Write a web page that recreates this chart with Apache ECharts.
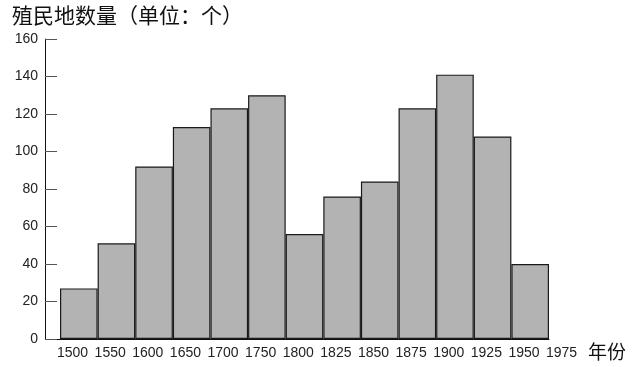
<!DOCTYPE html>
<html>
<head>
<meta charset="utf-8">
<script src="https://cdn.jsdelivr.net/npm/echarts@6/dist/echarts.min.js"></script>
<style>html,body{margin:0;padding:0;background:#fff}#c{width:634px;height:367px}</style>
</head>
<body>
<div id="c"></div>
<script>
const periods = ['1500-1550','1550-1600','1600-1650','1650-1700','1700-1750','1750-1800','1800-1825','1825-1850','1850-1875','1875-1900','1900-1925','1925-1950','1950-1975'];
const counts = [27, 51, 92, 113, 123, 130, 56, 76, 84, 123, 141, 108, 40];
const yearLabels = ['1500','1550','1600','1650','1700','1750','1800','1825','1850','1875','1900','1925','1950','1975'];
const yMin = 0, yMax = 160, yStep = 20;
const titleText = '殖民地数量（单位：个）';
const xName = '年份';

const chart = echarts.init(document.getElementById('c'), null, {renderer: 'canvas'});
const numFont = 'Liberation Sans, Arial, sans-serif';
const cjkFont = 'Noto Sans CJK SC, sans-serif';
const yAxisOffset = 15;
chart.setOption({
  animation: false,
  backgroundColor: '#fff',
  title: {
    text: titleText, left: 7, top: 0,
    textStyle: {fontFamily: cjkFont, fontSize: 21, fontWeight: 'normal', color: '#111'}
  },
  grid: {left: 60, right: 85, top: 39, bottom: 28, containLabel: false},
  xAxis: [
    {
      type: 'category', data: periods, boundaryGap: true,
      axisLine: {show: true, lineStyle: {color: '#111', width: 1}},
      axisTick: {show: false}, axisLabel: {show: false}, splitLine: {show: false}
    },
    {
      type: 'category', data: yearLabels, boundaryGap: false, position: 'bottom',
      axisLine: {show: false}, axisTick: {show: false}, splitLine: {show: false},
      axisLabel: {show: true, interval: 0, align: 'left', margin: 7, padding: [0,0,0,-3],
        fontFamily: numFont, fontSize: 14, color: '#222'}
    }
  ],
  yAxis: {
    type: 'value', min: yMin, max: yMax, interval: yStep, offset: yAxisOffset,
    axisLine: {show: true, lineStyle: {color: '#111', width: 1}},
    axisTick: {show: true, inside: true, length: 12, lineStyle: {color: '#555', width: 1}},
    axisLabel: {fontFamily: numFont, fontSize: 14, color: '#222', margin: 7},
    splitLine: {show: false}
  },
  series: [{
    type: 'bar', xAxisIndex: 0, data: counts, barCategoryGap: '0%',
    itemStyle: {color: '#b3b3b3', borderColor: '#1a1a1a', borderWidth: 1.2}
  }]
});
// join the offset y-axis to the x-axis line, and place the x-axis name
const base = chart.convertToPixel({xAxisIndex: 0, yAxisIndex: 0}, [0, 0]);
const rect = chart.getModel().getComponent('grid', 0).coordinateSystem.getRect();
chart.setOption({
  graphic: [
    {type: 'line', shape: {x1: rect.x - yAxisOffset, y1: base[1] + 0.5, x2: rect.x, y2: base[1] + 0.5},
     style: {stroke: '#111', lineWidth: 1}},
    {type: 'text', left: rect.x + rect.width + 39, top: base[1] + 3,
     style: {text: xName, font: '19px ' + cjkFont, fill: '#111'}}
  ]
});
</script>
</body>
</html>
